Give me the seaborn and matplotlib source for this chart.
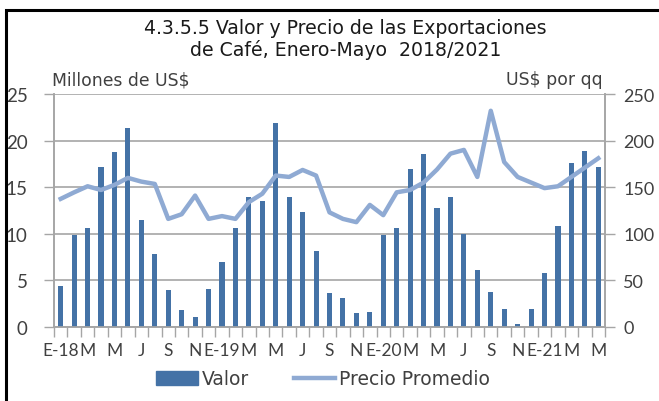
import matplotlib
matplotlib.use("Agg")
import matplotlib.pyplot as plt
import seaborn as sns
import numpy as np
import pandas as pd
from matplotlib.patches import Rectangle
from matplotlib.lines import Line2D
from matplotlib.patches import Patch

# ---- data ----
months = ["E-18", "F", "M", "A", "M", "J", "J", "A", "S", "O", "N", "D",
          "E-19", "F", "M", "A", "M", "J", "J", "A", "S", "O", "N", "D",
          "E-20", "F", "M", "A", "M", "J", "J", "A", "S", "O", "N", "D",
          "E-21", "F", "M", "A", "M"]
valor = [4.4, 9.9, 10.6, 17.2, 18.8, 21.4, 11.5, 7.8, 4.0, 1.8, 1.1, 4.1,
         7.0, 10.6, 14.0, 13.5, 21.9, 13.9, 12.3, 8.2, 3.6, 3.1, 1.5, 1.6,
         9.9, 10.6, 16.9, 18.6, 12.8, 14.0, 10.0, 6.1, 3.8, 1.9, 0.3, 1.9,
         5.8, 10.8, 17.6, 18.9, 17.2]
precio = [137.5, 144.5, 151, 147, 152.5, 160, 156, 153.5, 116, 121, 141, 116,
          119, 116, 134, 143, 162.5, 161, 168.5, 162.5, 123, 116, 112.5, 131,
          120, 144.5, 147, 155, 169, 186, 190, 161, 232, 177, 161, 155,
          149, 151, 161, 171, 181]
tick_labels = ["E-18", "M", "M", "J", "S", "N",
               "E-19", "M", "M", "J", "S", "N",
               "E-20", "M", "M", "J", "S", "N",
               "E-21", "M", "M"]

df = pd.DataFrame({"idx": np.arange(len(valor)), "mes": months,
                   "valor": valor, "precio": precio})

FONT = "Lato"
WIDE = "DejaVu Sans"
plt.rcParams["font.family"] = [FONT, "DejaVu Sans"]
TXT = "#404040"
GRID = "#A6A6A6"
BAR = "#4472A6"
LINE = "#8FAAD3"

fig = plt.figure(figsize=(6.59, 4.02), dpi=100)
ax = fig.add_axes([54/659, 1-328/402, (605-54)/659, (328-95)/402])

sns.barplot(data=df, x="idx", y="valor", color=BAR, width=0.38,
            saturation=1, ax=ax, zorder=3)
ax.set_xlim(-0.5, len(valor)-0.5)
ax.set_ylim(0, 25)
ax.set_yticks([0, 5, 10, 15, 20, 25])
ax.yaxis.grid(True, color=GRID, linewidth=1.2, zorder=0)
ax.set_axisbelow(True)
ax.set_xlabel("")
ax.set_ylabel("")

ax2 = ax.twinx()
sns.lineplot(data=df, x="idx", y="precio", color=LINE, linewidth=3.2,
             ax=ax2, zorder=4)
ax2.set_ylim(0, 250)
ax2.set_yticks([0, 50, 100, 150, 200, 250])
ax2.set_xlim(-0.5, len(valor)-0.5)
ax2.set_ylabel("")
ax2.set_xlabel("")

# x ticks
ax.set_xticks(np.arange(0, len(valor), 2))
ax.set_xticklabels(tick_labels)
ax.set_xticks(np.arange(-0.5, len(valor), 1), minor=True)
ax.tick_params(axis="x", which="major", length=0, pad=11, labelsize=12.5, labelcolor=TXT)
ax.tick_params(axis="x", which="minor", length=7, width=1, color=GRID, direction="out")
ax.tick_params(axis="y", length=7, width=1, color=GRID, pad=12, labelsize=13.5, labelcolor=TXT)
ax2.tick_params(axis="y", length=7, width=1, color=GRID, pad=6, labelsize=13, labelcolor=TXT)

for a in (ax, ax2):
    for s in a.spines.values():
        s.set_color(GRID)
        s.set_linewidth(1.2)
    a.spines["top"].set_visible(False)

# titles
fig.text(0.524, 1-28/402, "4.3.5.5 Valor y Precio de las Exportaciones",
         ha="center", va="center", fontsize=13.6, color="#1a1a1a", family=WIDE)
fig.text(0.524, 1-50/402, "de Café, Enero-Mayo  2018/2021",
         ha="center", va="center", fontsize=13.6, color="#1a1a1a", family=WIDE)
fig.text(52/659, 1-80/402, "Millones de US$", ha="left", va="center",
         fontsize=12.4, color=TXT, family=WIDE)
fig.text(603/659, 1-80/402, "US$ por qq", ha="right", va="center",
         fontsize=12.4, color=TXT, family=WIDE)

# legend
handles = [Patch(facecolor=BAR, edgecolor=BAR, label="Valor"),
           Line2D([0], [0], color=LINE, linewidth=3.2, label="Precio Promedio")]
fig.legend(handles=handles, loc="center", bbox_to_anchor=(323/659, 1-380/402),
           ncol=2, frameon=False, labelcolor=TXT,
           prop={"family": WIDE, "size": 13.5},
           handlelength=2.2, columnspacing=2.4, handletextpad=0.2)

# frame border
fig.add_artist(Rectangle((6/659, -0.1), 1.2, 1.1 - 11/402, transform=fig.transFigure,
                         fill=False, edgecolor="black", linewidth=2.2))

fig.savefig("out.png", dpi=100)
